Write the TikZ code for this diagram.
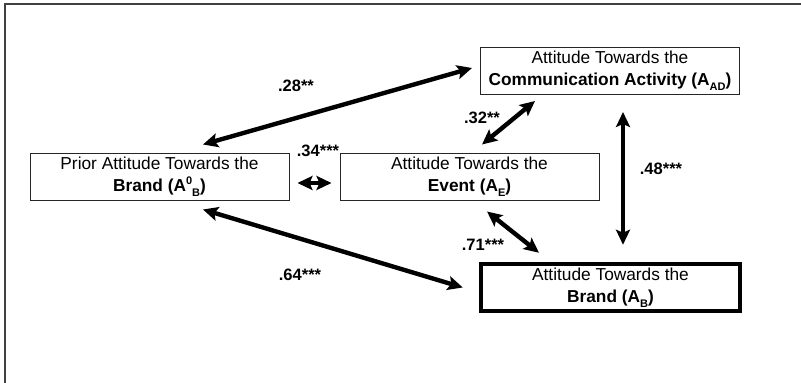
\documentclass[tikz,border=0pt]{standalone}
\usepackage{fontspec}
\setmainfont{Liberation Sans}
\usetikzlibrary{arrows.meta}
\newcommand{\lowsub}[1]{\raisebox{-0.55ex}{\fontsize{11}{11}\selectfont #1}}
\newcommand{\highsup}[1]{\raisebox{0.75ex}{\fontsize{11}{11}\selectfont #1}}
\begin{document}
\begin{tikzpicture}[x=1pt,y=-1pt,
  every node/.style={font=\fontsize{17.3}{22}\selectfont},
  box/.style={draw=black!85, line width=1pt, fill=white, minimum width=259pt, minimum height=47pt, inner sep=0pt, align=center},
  thickbox/.style={box, draw=black, line width=4.5pt},
  lab/.style={font=\fontsize{16.5}{18}\selectfont\bfseries, inner sep=0pt},
  link/.style={line width=4.4pt, {Stealth[length=15pt,width=14pt,inset=3pt]}-{Stealth[length=15pt,width=14pt,inset=3pt]}}
]
\useasboundingbox (0,0) rectangle (801,383);
\draw[line width=1.6pt, draw=black!75] (5,383) -- (5,4) -- (801,4);

\node[box] (prior) at (159.5,176.5) {Prior Attitude Towards the\\\textbf{Brand (A\highsup{0}\lowsub{B})}};
\node[box] (event) at (469.5,176.5) {Attitude Towards the\\\textbf{Event (A\lowsub{E})}};
\node[box] (comm) at (610,71) {Attitude Towards the\\\textbf{Communication Activity (A\lowsub{AD})}};
\node[thickbox] (brand) at (610.5,287.5) {Attitude Towards the\\\textbf{Brand (A\lowsub{B})}};

\draw[link] ([xshift=-8pt,yshift=3pt]comm.west) -- ([xshift=43.5pt,yshift=8pt]prior.north);
\draw[link] ([xshift=-75pt,yshift=-6pt]comm.south) -- ([xshift=12.5pt,yshift=8pt]event.north);
\draw[link] ([xshift=8pt,yshift=-6.5pt]prior.east) -- ([xshift=-8pt,yshift=-6.5pt]event.west);
\draw[link] ([xshift=13pt,yshift=-17pt]comm.south) -- ([xshift=12.5pt,yshift=17pt]brand.north);
\draw[link] ([xshift=17.5pt,yshift=-11pt]event.south) -- ([xshift=-71.5pt,yshift=9pt]brand.north);
\draw[link] ([xshift=43.5pt,yshift=-9pt]prior.south) -- ([xshift=-16pt]brand.west);

\node[lab] (l28) at (296,86) {.28**};
\node[lab] (l34) at (318,151) {.34***};
\node[lab] (l32) at (482,118) {.32**};
\node[lab] (l48) at (661,169) {.48***};
\node[lab] (l71) at (483,245) {.71***};
\node[lab] (l64) at (300,275) {.64***};
\end{tikzpicture}
\end{document}
